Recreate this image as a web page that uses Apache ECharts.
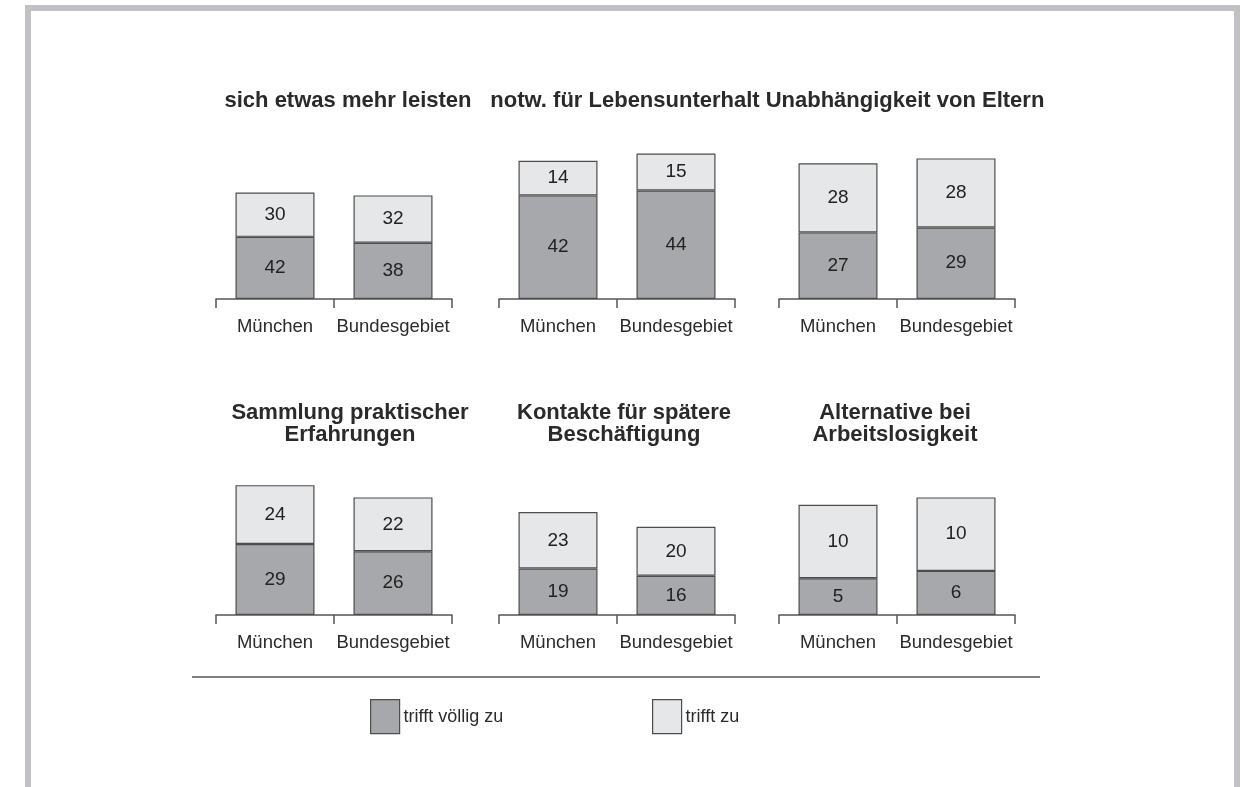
<!DOCTYPE html>
<html>
<head>
<meta charset="utf-8">
<script src="https://cdn.jsdelivr.net/npm/echarts@6/dist/echarts.min.js"></script>
<style>
  html, body { margin: 0; padding: 0; background: #ffffff; }
  #chart { width: 1253px; height: 787px; }
</style>
</head>
<body>
<div id="chart"></div>
<script>
// Panel titles (one per small multiple)
const panelTitles = [
  'sich etwas mehr leisten',
  'notw. für Lebensunterhalt',
  'Unabhängigkeit von Eltern',
  'Sammlung praktischer\nErfahrungen',
  'Kontakte für spätere\nBeschäftigung',
  'Alternative bei\nArbeitslosigkeit'
];
const regions = ['München', 'Bundesgebiet'];
const seriesNames = ['trifft völlig zu', 'trifft zu'];

// Percent values per panel: [München, Bundesgebiet]
const triftVoellig = [
  [42, 38],
  [42, 44],
  [27, 29],
  [29, 26],
  [19, 16],
  [5, 6]
];
const triftZu = [
  [30, 32],
  [14, 15],
  [28, 28],
  [24, 22],
  [23, 20],
  [10, 10]
];
// Each panel has its own value scale
const axisMax = [100, 60, 60, 60, 60, 20];

const colDark = '#a7a8ab';
const colLight = '#e6e7e9';
const edge = '#4d4d4d';
const font = 'Liberation Sans, Arial, sans-serif';

const colLeft = [216, 499, 779];
const rowTop = [151, 468];
const rowHeight = [148, 147];
const gridWidth = 236;

// title placement: [center x, top y]
const titlePos = [
  [348, 90], [625, 90], [905, 90],
  [350, 402], [624, 402], [895, 402]
];

const grids = [], xAxes = [], yAxes = [], series = [], titles = [];
for (let i = 0; i < 6; i++) {
  const c = i % 3, r = Math.floor(i / 3);
  grids.push({ left: colLeft[c], top: rowTop[r], width: gridWidth, height: rowHeight[r], containLabel: false });
  xAxes.push({
    type: 'category', gridIndex: i, data: regions, boundaryGap: true,
    axisLine: { show: true, lineStyle: { color: '#555', width: 1.5 } },
    axisTick: { show: true, interval: 0, length: 9, inside: false, lineStyle: { color: '#555', width: 1.5 } },
    axisLabel: { interval: 0, hideOverlap: false, margin: 18, color: '#2b2b2b', fontSize: 18.5, fontFamily: font }
  });
  yAxes.push({ type: 'value', gridIndex: i, min: 0, max: axisMax[i], show: false, splitLine: { show: false } });
  const lbl = { show: true, position: 'inside', color: '#222', fontSize: 19, fontFamily: font };
  series.push({
    name: seriesNames[0], type: 'bar', stack: 's' + i, xAxisIndex: i, yAxisIndex: i,
    barWidth: 79, data: triftVoellig[i],
    itemStyle: { color: colDark, borderColor: edge, borderWidth: 1.2 },
    label: lbl, emphasis: { disabled: true }, animation: false
  });
  series.push({
    name: seriesNames[1], type: 'bar', stack: 's' + i, xAxisIndex: i, yAxisIndex: i,
    barWidth: 79, data: triftZu[i],
    itemStyle: { color: colLight, borderColor: edge, borderWidth: 1.2 },
    label: lbl, emphasis: { disabled: true }, animation: false
  });
  titles.push({
    text: panelTitles[i], left: titlePos[i][0], top: titlePos[i][1], textAlign: 'center', padding: 0,
    textStyle: { fontSize: 22, fontWeight: 'bold', color: '#2a2a2a', lineHeight: 22, fontFamily: font }
  });
}

const legendCommon = {
  orient: 'horizontal', itemWidth: 29, itemHeight: 34, itemGap: 0, padding: 0, selectedMode: false,
  icon: 'rect',
  itemStyle: { borderColor: edge, borderWidth: 1.2 },
  textStyle: { fontSize: 18, color: '#2b2b2b', padding: [0, 0, 0, -1], fontFamily: font }
};

const chart = echarts.init(document.getElementById('chart'), null, { renderer: 'canvas' });
chart.setOption({
  backgroundColor: '#ffffff',
  animation: false,
  title: titles,
  grid: grids,
  xAxis: xAxes,
  yAxis: yAxes,
  series: series,
  legend: [
    Object.assign({}, legendCommon, { data: [seriesNames[0]], left: 370, top: 699 }),
    Object.assign({}, legendCommon, { data: [seriesNames[1]], left: 652, top: 699 })
  ],
  graphic: [
    {
      type: 'rect', silent: true,
      shape: { x: 28, y: 8, width: 1209, height: 820 },
      style: { fill: null, stroke: '#c0c1c4', lineWidth: 6 }
    },
    {
      type: 'line', silent: true,
      shape: { x1: 192, y1: 677, x2: 1040, y2: 677 },
      style: { stroke: '#555', lineWidth: 1.5 }
    }
  ]
});
</script>
</body>
</html>
